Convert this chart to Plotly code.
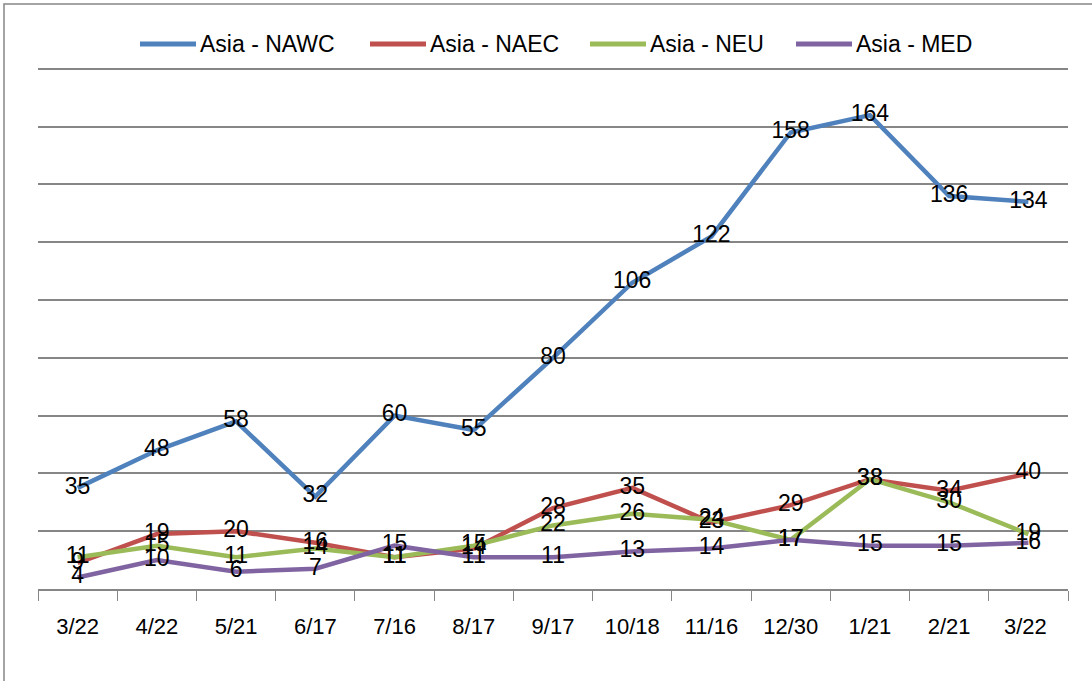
import plotly.graph_objects as go

categories = ["3/22", "4/22", "5/21", "6/17", "7/16", "8/17", "9/17", "10/18", "11/16", "12/30", "1/21", "2/21", "3/22 "]
nawc = [35, 48, 58, 32, 60, 55, 80, 106, 122, 158, 164, 136, 134]
naec = [9, 19, 20, 16, 11, 14, 28, 35, 23, 29, 38, 34, 40]
neu = [11, 15, 11, 14, 11, 15, 22, 26, 24, 17, 38, 30, 19]
med = [4, 10, 6, 7, 15, 11, 11, 13, 14, 17, 15, 15, 16]

series = [
    ("Asia - NAWC", nawc, "#4F81BD"),
    ("Asia - NAEC", naec, "#C0504D"),
    ("Asia - NEU", neu, "#9BBB59"),
    ("Asia - MED", med, "#8064A2"),
]

FONT = "Liberation Sans Narrow, Liberation Sans, Arial, sans-serif"

fig = go.Figure()
for name, vals, color in series:
    fig.add_trace(go.Scatter(x=categories, y=vals, mode="lines", name=name,
                             line=dict(color=color, width=4.5), showlegend=False))
for name, vals, color in series:
    fig.add_trace(go.Scatter(x=categories, y=vals, mode="text", text=[str(v) for v in vals],
                             textposition="middle center", showlegend=False, hoverinfo="skip",
                             textfont=dict(family=FONT, size=23, color="black")))

W, H = 1092, 681
L, R, T, B = 38, 24, 66, 92
pw, ph = W - L - R, H - T - B

def px(xpix):
    return (xpix - L) / pw

def py(ypix):
    return (H - B - ypix) / ph

# outer chart border
fig.add_shape(type="rect", xref="paper", yref="paper",
              x0=px(4), x1=px(1120), y0=py(720), y1=py(4),
              line=dict(color="#868686", width=1.5), fillcolor="rgba(0,0,0,0)", layer="below")

# legend drawn as line samples + text
legend_x = [140, 370, 590, 796]
LEG_Y = 44
for (name, vals, color), lx in zip(series, legend_x):
    fig.add_shape(type="line", xref="paper", yref="paper",
                  x0=px(lx), x1=px(lx + 56), y0=py(LEG_Y), y1=py(LEG_Y),
                  line=dict(color=color, width=5))
    fig.add_annotation(xref="paper", yref="paper", x=px(lx + 58), y=py(LEG_Y),
                       xanchor="left", yanchor="middle", showarrow=False, text=name,
                       font=dict(family=FONT, size=23, color="black"))

fig.update_layout(
    width=W, height=H,
    margin=dict(l=L, r=R, t=T, b=B, autoexpand=False),
    paper_bgcolor="white", plot_bgcolor="white",
    font=dict(family=FONT, size=22, color="black"),
    showlegend=False,
    xaxis=dict(type="category", range=[-0.5, len(categories) - 0.5],
               showgrid=False, showline=True, linecolor="#868686", linewidth=1.5,
               ticks="outside", tickson="boundaries", ticklen=10, tickcolor="#868686",
               tickfont=dict(family=FONT, size=22, color="black"), ticklabelstandoff=17,
               zeroline=False),
    yaxis=dict(range=[0, 181], tickvals=[20, 40, 60, 80, 100, 120, 140, 160, 180],
               showticklabels=False, showgrid=True,
               gridcolor="#868686", gridwidth=1.5, zeroline=False, showline=False),
)

fig.write_html("out.html", post_script="document.body.style.margin='0';",
               config={"displayModeBar": False})
